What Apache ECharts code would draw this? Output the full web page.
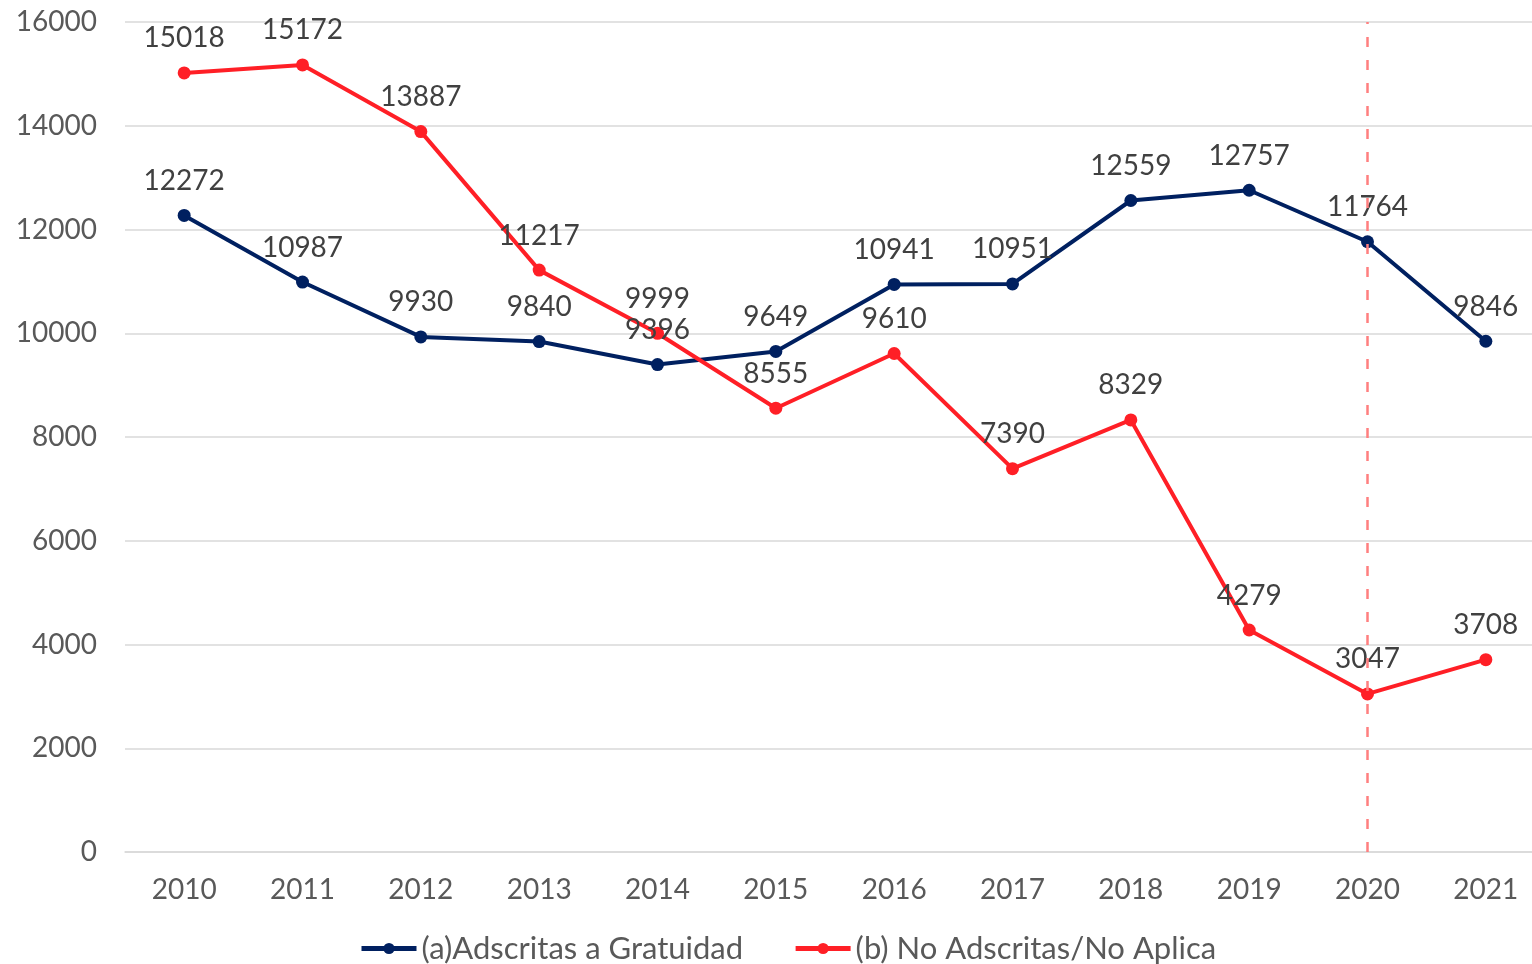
<!DOCTYPE html>
<html>
<head>
<meta charset="utf-8">
<style>
  html, body { margin: 0; padding: 0; background: #fff; }
  #main { width: 1532px; height: 964px; }
</style>
<script src="https://cdn.jsdelivr.net/npm/echarts@6/dist/echarts.min.js"></script>
</head>
<body>
<div id="main"></div>
<script>
// datos
var years = ['2010', '2011', '2012', '2013', '2014', '2015', '2016', '2017', '2018', '2019', '2020', '2021'];
var adscritas = [12272, 10987, 9930, 9840, 9396, 9649, 10941, 10951, 12559, 12757, 11764, 9846];
var noAdscritas = [15018, 15172, 13887, 11217, 9999, 8555, 9610, 7390, 8329, 4279, 3047, 3708];
var seriesNames = ['(a)Adscritas a Gratuidad', '(b) No Adscritas/No Aplica'];
var markYear = '2020';

var font = 'Lato';
var myChart = echarts.init(document.getElementById('main'));

var labelStyle = {
    show: true,
    position: 'top',
    distance: 14,
    color: '#404040',
    fontSize: 28,
    fontFamily: font
};

var option = {
    backgroundColor: '#fff',
    animation: false,
    // el área sigue más allá del borde derecho, como en el original
    grid: { left: 125, width: 1420, top: 22, bottom: 112, outerBoundsMode: 'none', containLabel: false },
    legend: {
        left: 354,
        bottom: -5,
        itemWidth: 55,
        itemHeight: 14,
        itemGap: 50,
        lineStyle: { width: 5 },
        textStyle: { color: '#595959', fontSize: 31, fontFamily: font },
        data: seriesNames
    },
    xAxis: {
        type: 'category',
        data: years,
        boundaryGap: true,
        axisLine: { lineStyle: { color: '#d9d9d9', width: 1.5 } },
        axisTick: { show: false },
        axisLabel: { color: '#595959', fontSize: 28, fontFamily: font, margin: 24 }
    },
    yAxis: {
        type: 'value',
        min: 0,
        max: 16000,
        interval: 2000,
        axisLine: { show: false },
        axisTick: { show: false },
        axisLabel: {
            color: '#595959', fontSize: 28, fontFamily: font, margin: 28,
            formatter: function (v) { return String(v); }
        },
        splitLine: { lineStyle: { color: '#d9d9d9', width: 1.5 } }
    },
    series: [{
        name: seriesNames[0],
        type: 'line',
        data: adscritas,
        symbol: 'circle',
        symbolSize: 13,
        itemStyle: { color: '#002060' },
        lineStyle: { color: '#002060', width: 4 },
        label: labelStyle
    }, {
        name: seriesNames[1],
        type: 'line',
        data: noAdscritas,
        symbol: 'circle',
        symbolSize: 13,
        itemStyle: { color: '#ff1f26' },
        lineStyle: { color: '#ff1f26', width: 4 },
        label: labelStyle,
        markLine: {
            silent: true,
            symbol: ['none', 'none'],
            label: { show: false },
            lineStyle: { color: '#ff7f7f', width: 2.5, type: [10, 13] },
            data: [{ xAxis: markYear }]
        }
    }]
};

myChart.setOption(option);
</script>
</body>
</html>
